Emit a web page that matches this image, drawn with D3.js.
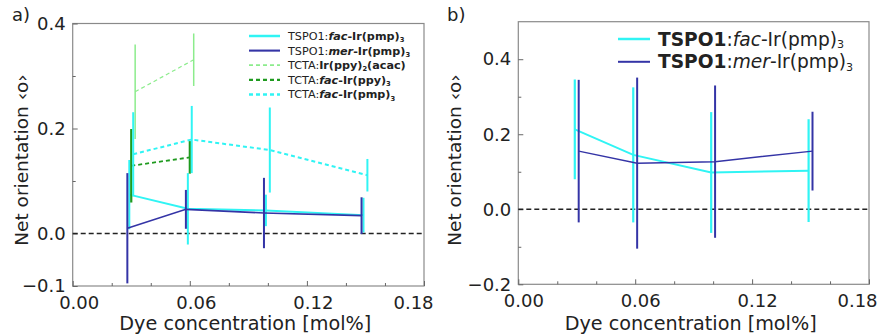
<!DOCTYPE html>
<html>
<head>
<meta charset="utf-8">
<title>Net orientation</title>
<style>
  body { margin: 0; background: #fff; }
  text { font-family: "DejaVu Sans", sans-serif; fill: #222; }
</style>
<script src="https://d3js.org/d3.v7.min.js"></script>
</head>
<body>
<svg id="chart" width="881" height="335"></svg>
<script>
// ---- data: panel a ----
const aFacX = [0.029, 0.059, 0.099, 0.149];
const aFacY = [0.074, 0.047, 0.044, 0.035];
const aFacErr = [0.066, 0.068, 0.030, 0.033];

const aMerX = [0.028, 0.058, 0.098, 0.148];
const aMerY = [0.010, 0.046, 0.039, 0.034];
const aMerErr = [0.105, 0.037, 0.067, 0.035];

const aAcacX = [0.032, 0.062];
const aAcacY = [0.270, 0.331];
const aAcacErr = [0.090, 0.050];

const aPpyX = [0.030, 0.060];
const aPpyY = [0.129, 0.145];
const aPpyErr = [0.070, 0.031];

const aPmpX = [0.031, 0.061, 0.101, 0.151];
const aPmpY = [0.151, 0.179, 0.159, 0.111];
const aPmpErr = [0.080, 0.064, 0.081, 0.031];

// ---- data: panel b ----
const bFacX = [0.029, 0.059, 0.099, 0.149];
const bFacY = [0.213, 0.145, 0.098, 0.103];
const bFacErr = [0.133, 0.180, 0.161, 0.137];

const bMerX = [0.031, 0.061, 0.101, 0.151];
const bMerY = [0.155, 0.123, 0.127, 0.155];
const bMerErr = [0.190, 0.228, 0.203, 0.105];

// ---- ticks ----
const xTickLabels = [0.00, 0.06, 0.12, 0.18];
const xMinorTicks = [0.02, 0.04, 0.08, 0.10, 0.14, 0.16];
const aYTickLabels = [-0.1, 0.0, 0.2, 0.4];
const aYMinorTicks = [0.1, 0.3];
const bYTickLabels = [-0.2, 0.0, 0.2, 0.4];
const bYMinorTicks = [-0.1, 0.1, 0.3];

// legend labels: [text, weight, style, isSub]
const aLegendLabels = [
  [["TSPO1:", "normal", "normal", false], ["fac", "bold", "italic", false], ["-Ir(pmp)", "bold", "normal", false], ["3", "bold", "normal", true]],
  [["TSPO1:", "normal", "normal", false], ["mer", "bold", "italic", false], ["-Ir(pmp)", "bold", "normal", false], ["3", "bold", "normal", true]],
  [["TCTA:", "normal", "normal", false], ["Ir(ppy)", "bold", "normal", false], ["2", "bold", "normal", true], ["(acac)", "bold", "normal", false]],
  [["TCTA:", "normal", "normal", false], ["fac", "bold", "italic", false], ["-Ir(ppy)", "bold", "normal", false], ["3", "bold", "normal", true]],
  [["TCTA:", "normal", "normal", false], ["fac", "bold", "italic", false], ["-Ir(pmp)", "bold", "normal", false], ["3", "bold", "normal", true]]
];
const bLegendLabels = [
  [["TSPO1", "bold", "normal", false], [":", "normal", "normal", false], ["fac", "normal", "italic", false], ["-Ir(pmp)", "normal", "normal", false], ["3", "normal", "normal", true]],
  [["TSPO1", "bold", "normal", false], [":", "normal", "normal", false], ["mer", "normal", "italic", false], ["-Ir(pmp)", "normal", "normal", false], ["3", "normal", "normal", true]]
];

const CYAN = "#30f4f4";
const NAVY = "#3434a6";
const LIGHTGREEN = "#8cec8c";
const DARKGREEN = "#1f9a1f";

const svg = d3.select("#chart");

function drawPanel(box, yDomain, yLabels, yMinor, series, legend, legendCfg, tag) {
  const x = d3.scaleLinear().domain([0, 0.18]).range([box.left, box.right]);
  const y = d3.scaleLinear().domain(yDomain).range([box.bottom, box.top]);
  const g = svg.append("g");

  // frame
  g.append("rect")
   .attr("x", box.left).attr("y", box.top)
   .attr("width", box.right - box.left).attr("height", box.bottom - box.top)
   .attr("fill", "none").attr("stroke", "#8a8a8a").attr("stroke-width", 1.2);

  // axes, ticks pointing inward
  const xAxis = d3.axisBottom(x).tickValues(xTickLabels).tickSize(-5).tickPadding(10)
                  .tickFormat(d3.format(".2f"));
  const gx = g.append("g").attr("transform", `translate(0,${box.bottom})`).call(xAxis);
  const gxm = g.append("g").attr("transform", `translate(0,${box.bottom})`)
               .call(d3.axisBottom(x).tickValues(xMinorTicks).tickSize(-3).tickFormat(""));
  const yAxis = d3.axisLeft(y).tickValues(yLabels).tickSize(-5).tickPadding(7)
                  .tickFormat(d3.format(".1f"));
  const gy = g.append("g").attr("transform", `translate(${box.left},0)`).call(yAxis);
  const gym = g.append("g").attr("transform", `translate(${box.left},0)`)
               .call(d3.axisLeft(y).tickValues(yMinor).tickSize(-3).tickFormat(""));
  [gx, gxm, gy, gym].forEach(a => {
    a.select(".domain").remove();
    a.selectAll("line").attr("stroke", "#666");
    a.selectAll("text").attr("font-size", 18).attr("fill", "#222")
     .style("font-family", "DejaVu Sans, sans-serif");
  });
  // nudge x tick labels the way the figure has them (last one kept inside)
  gx.selectAll("text").attr("dx", (d, i) => i === xTickLabels.length - 1 ? tag.lastDx : tag.dx);

  // zero line
  g.append("line")
   .attr("x1", box.left).attr("x2", box.right)
   .attr("y1", y(0)).attr("y2", y(0))
   .attr("stroke", "#222").attr("stroke-width", 1.3).attr("stroke-dasharray", "5,3");

  // series
  series.forEach(s => {
    const pts = s.x.map((v, i) => ({ x: v, y: s.y[i], e: s.err[i] }));
    g.append("g").selectAll("line").data(pts).enter().append("line")
     .attr("x1", d => x(d.x)).attr("x2", d => x(d.x))
     .attr("y1", d => y(d.y - d.e)).attr("y2", d => y(d.y + d.e))
     .attr("stroke", s.color).attr("stroke-width", s.ew);
    g.append("path").datum(pts)
     .attr("d", d3.line().x(d => x(d.x)).y(d => y(d.y)))
     .attr("fill", "none").attr("stroke", s.color).attr("stroke-width", s.lw)
     .attr("stroke-dasharray", s.dash || null);
  });

  // legend
  const lg = g.append("g");
  legend.forEach((parts, i) => {
    const s = series[i];
    const yy = legendCfg.y0 + i * legendCfg.dy;
    lg.append("line")
      .attr("x1", legendCfg.x0).attr("x2", legendCfg.x1)
      .attr("y1", yy).attr("y2", yy)
      .attr("stroke", s.color).attr("stroke-width", s.lw + 0.5)
      .attr("stroke-dasharray", s.dash || null);
    const t = lg.append("text")
      .attr("x", legendCfg.tx).attr("y", yy + legendCfg.fs * 0.36)
      .attr("font-size", legendCfg.fs);
    let wasSub = false;
    parts.forEach(p => {
      const ts = t.append("tspan").text(p[0])
        .attr("font-weight", p[1]).attr("font-style", p[2]);
      if (p[3]) {
        ts.attr("font-size", legendCfg.fs * 0.6).attr("dy", legendCfg.fs * legendCfg.sub);
        wasSub = true;
      } else if (wasSub) {
        ts.attr("dy", -legendCfg.fs * legendCfg.sub);
        wasSub = false;
      }
    });
  });

  // labels
  g.append("text")
   .attr("transform", `translate(${tag.ylx},${160}) rotate(-90)`)
   .attr("text-anchor", "middle").attr("font-size", 18.5)
   .text("Net orientation \u2039o\u203a");
  g.append("text")
   .attr("x", (box.left + box.right) / 2 - 3).attr("y", 330)
   .attr("text-anchor", "middle").attr("font-size", 19.2)
   .text("Dye concentration [mol%]");
  g.append("text")
   .attr("x", tag.x).attr("y", tag.y)
   .attr("font-size", 18).text(tag.text);
}

drawPanel(
  { left: 72.7, right: 424, top: 23.5, bottom: 286 },
  [-0.1, 0.4], aYTickLabels, aYMinorTicks,
  [
    { x: aFacX, y: aFacY, err: aFacErr, color: CYAN, lw: 2, ew: 2 },
    { x: aMerX, y: aMerY, err: aMerErr, color: NAVY, lw: 1.6, ew: 2 },
    { x: aAcacX, y: aAcacY, err: aAcacErr, color: LIGHTGREEN, lw: 1.2, ew: 1.5, dash: "4,3" },
    { x: aPpyX, y: aPpyY, err: aPpyErr, color: DARKGREEN, lw: 1.8, ew: 2.2, dash: "4,3" },
    { x: aPmpX, y: aPmpY, err: aPmpErr, color: CYAN, lw: 2, ew: 2, dash: "4,3" }
  ],
  aLegendLabels,
  { x0: 249, x1: 280, tx: 288, y0: 36, dy: 14.6, fs: 11.2, sub: 0.2 },
  { x: 12, y: 21, text: "a)", ylx: 28, dx: 6, lastDx: -11 }
);

drawPanel(
  { left: 518.3, right: 869, top: 21.7, bottom: 284.3 },
  [-0.2, 0.5], bYTickLabels, bYMinorTicks,
  [
    { x: bFacX, y: bFacY, err: bFacErr, color: CYAN, lw: 2, ew: 2.2 },
    { x: bMerX, y: bMerY, err: bMerErr, color: NAVY, lw: 1.5, ew: 2 }
  ],
  bLegendLabels,
  { x0: 618, x1: 650, tx: 658, y0: 39, dy: 22.8, fs: 18.6, sub: 0.12 },
  { x: 447, y: 21, text: "b)", ylx: 461, dx: 5, lastDx: -12 }
);
</script>
</body>
</html>
